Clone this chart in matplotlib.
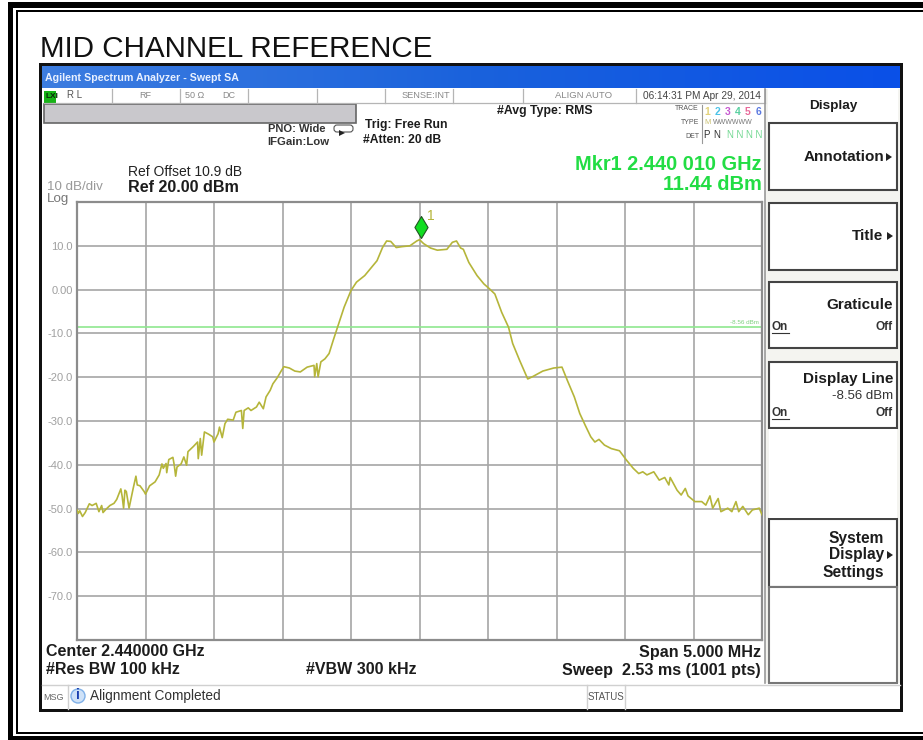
#%%
import numpy as np
import matplotlib.pyplot as plt
from matplotlib.patches import Rectangle, Polygon, FancyBboxPatch

plt.rcParams['font.family'] = ['Liberation Sans', 'DejaVu Sans']

# trace: offset respecto al centro [MHz] y nivel [dBm]
freq_mhz = [-2.50, -2.49, -2.48, -2.46, -2.44, -2.41, -2.39, -2.36, -2.34, -2.32, -2.31, -2.29, -2.26, -2.23, -2.21,
            -2.18, -2.17, -2.16, -2.15, -2.14, -2.12, -2.10, -2.09, -2.07, -2.06, -2.04, -2.01, -2.00, -1.97, -1.93,
            -1.90, -1.88, -1.87, -1.85, -1.845, -1.83, -1.80, -1.79, -1.78, -1.77, -1.74, -1.72, -1.70, -1.69, -1.65,
            -1.62, -1.615, -1.60, -1.59, -1.57, -1.54, -1.51, -1.50, -1.47, -1.46, -1.44, -1.42, -1.40, -1.36, -1.34,
            -1.30, -1.29, -1.28, -1.25, -1.23, -1.19, -1.17, -1.14, -1.12, -1.09, -1.07, -1.04, -1.01, -0.99, -0.95,
            -0.91, -0.87, -0.82, -0.77, -0.765, -0.75, -0.74, -0.72, -0.69, -0.66, -0.63, -0.59, -0.55, -0.50, -0.46,
            -0.40, -0.36, -0.31, -0.27, -0.24, -0.21, -0.17, -0.13, -0.07, -0.02, 0.00, 0.03, 0.08, 0.13, 0.20,
            0.24, 0.27, 0.30, 0.32, 0.36, 0.42, 0.47, 0.51, 0.55, 0.60, 0.65, 0.68, 0.73, 0.79, 0.83,
            0.90, 0.98, 1.04, 1.08, 1.13, 1.17, 1.21, 1.25, 1.28, 1.31, 1.35, 1.40, 1.46, 1.51, 1.56,
            1.60, 1.63, 1.66, 1.71, 1.75, 1.79, 1.82, 1.83, 1.88, 1.91, 1.94, 1.96, 2.01, 2.06, 2.09,
            2.12, 2.14, 2.18, 2.20, 2.25, 2.28, 2.31, 2.33, 2.36, 2.40, 2.43, 2.48, 2.50]
level_dbm = [-50.3, -51.1, -50.5, -51.8, -50.9, -48.9, -49.3, -48.8, -50.7, -49.3, -50.9, -50.2, -49.3, -48.8, -47.9,
             -45.5, -47.3, -49.9, -45.8, -46.1, -49.9, -46.9, -45.4, -42.6, -44.6, -44.8, -46.1, -46.7, -44.8, -43.9,
             -42.3, -39.8, -40.8, -39.7, -41.8, -38.8, -38.3, -40.1, -42.6, -40.5, -39.8, -38.2, -40.1, -37.0, -35.8,
             -34.8, -38.6, -34.0, -37.8, -32.5, -33.0, -33.6, -34.8, -32.9, -31.4, -33.8, -30.6, -29.6, -29.8, -28.0,
             -27.6, -31.7, -27.6, -27.0, -27.6, -26.8, -25.7, -27.2, -24.5, -23.0, -21.5, -20.2, -18.6, -17.6, -17.9,
             -18.6, -18.8, -17.7, -17.3, -19.9, -16.9, -19.9, -16.5, -15.8, -14.6, -11.6, -7.8, -4.0, -0.2, 1.7,
             3.2, 4.7, 6.6, 9.6, 11.1, 11.0, 9.6, 9.8, 10.0, 11.1, 11.4, 10.5, 9.5, 9.0, 9.2,
             10.8, 11.1, 9.5, 9.2, 6.2, 3.2, 1.3, 0.2, -1.0, -5.2, -8.6, -12.3, -16.1, -20.4, -19.8,
             -18.6, -17.9, -17.7, -20.8, -24.5, -28.3, -31.0, -33.6, -34.8, -34.2, -35.5, -36.3, -36.8, -38.9, -40.8,
             -42.0, -41.6, -42.3, -41.6, -43.5, -42.9, -44.6, -42.9, -45.8, -46.9, -45.4, -47.1, -48.4, -48.4, -49.2,
             -47.1, -49.9, -47.7, -50.7, -49.9, -50.7, -48.4, -50.7, -49.5, -51.4, -50.3, -49.9, -51.4]
y_ticks = [10, 0, -10, -20, -30, -40, -50, -60, -70]
y_tick_labels = ['10.0', '0.00', '-10.0', '-20.0', '-30.0', '-40.0', '-50.0', '-60.0', '-70.0']
display_line = -8.56
marker_freq = 0.01
marker_level = 14.3

W, H = 923, 740
fig = plt.figure(figsize=(W / 100, H / 100), dpi=100)

# capa de fondo en pixeles para la ventana del analizador
bg = fig.add_axes([0, 0, 1, 1])
bg.set_xlim(0, W)
bg.set_ylim(H, 0)
bg.axis('off')


def box(x0, y0, x1, y1, fc='white', ec='none', lw=0, z=1):
    bg.add_patch(Rectangle((x0, y0), x1 - x0, y1 - y0, fc=fc, ec=ec, lw=lw, zorder=z))


def txt(x, y, s, size=9, weight='bold', color='#1c1c1c', ha='left', va='center', **kw):
    bg.text(x, y, s, fontsize=size, fontweight=weight, color=color, ha=ha, va=va, zorder=6, **kw)


# marco de la pagina
box(8, 2, W, 8, fc='black')
box(8, 2, 13, H, fc='black')
box(16, 10, W, 12, fc='black')
box(16, 10, 18, 734, fc='black')
box(16, 732, W, 734, fc='black')
box(8, 736, W, H, fc='black')

txt(40, 49, 'MID CHANNEL REFERENCE', size=21.3, weight='normal', color='#111111')

# ventana
box(39, 63, 903, 712, fc='#111111', z=1)
box(42, 66, 900, 709, fc='white', z=1)
grad = np.linspace(0, 1, 256).reshape(1, -1)
bg.imshow(grad, extent=(42, 900, 88, 66), aspect='auto', zorder=2,
          cmap=plt.cm.colors.LinearSegmentedColormap.from_list('barra', ['#3d7de0', '#1a62dc', '#0a50e8']))
bg.set_xlim(0, W)
bg.set_ylim(H, 0)
txt(45, 78, 'Agilent Spectrum Analyzer - Swept SA', size=7.7, color='#e8f0ff')

# fila de estado
box(44, 91, 56, 103, fc='#17b317', z=2)
txt(45, 97, 'LXI', size=6, color='#0a2a0a')
txt(67, 95, 'R L', size=7, weight='normal', color='#555555')
txt(139, 96, 'RF', size=6.5, weight='normal', color='#888888')
txt(185, 96, '50 Ω', size=6.5, weight='normal', color='#888888')
txt(222, 96, 'DC', size=6.5, weight='normal', color='#888888')
txt(402, 96, 'SENSE:INT', size=6.7, weight='normal', color='#888888')
txt(555, 96, 'ALIGN AUTO', size=6.8, weight='normal', color='#888888')
txt(643, 96, '06:14:31 PM Apr 29, 2014', size=7.3, weight='normal', color='#444444')
for xs in [112, 180, 248, 317, 385, 453, 523, 636, 765]:
    bg.plot([xs, xs], [89, 103], color='#b5b5b5', lw=0.9, zorder=3)
bg.plot([44, 765], [103, 103], color='#b5b5b5', lw=0.9, zorder=3)

box(44, 104, 356, 123, fc='#c9c8cc', ec='#666666', lw=1.2, z=2)

txt(268, 129, 'PNO: Wide', size=8, color='#333333')
txt(267, 142, 'IFGain:Low', size=8.2, color='#333333')
bg.add_patch(FancyBboxPatch((335, 126), 17, 5, boxstyle='round,pad=1,rounding_size=3', fc='none', ec='#555555',
                            lw=0.8, zorder=3))
bg.add_patch(Polygon([[339, 130], [345, 133], [339, 136]], fc='#222222', ec='none', zorder=3))
txt(365, 125, 'Trig: Free Run', size=8.7)
txt(363, 140, '#Atten: 20 dB', size=8.7)
txt(497, 111, '#Avg Type: RMS', size=8.8)

# tabla de trazas
txt(699, 109, 'TRACE', size=5, weight='normal', ha='right', color='#555555')
txt(699, 123, 'TYPE', size=5, weight='normal', ha='right', color='#555555')
txt(699, 136, 'DET', size=5, weight='normal', ha='right', color='#555555')
bg.plot([702, 702], [105, 143], color='#999999', lw=0.8, zorder=3)
trace_cols = ['#e3d27a', '#4cc3e8', '#c65ad0', '#58d0a0', '#e86a9a', '#5a78e0']
for i, c in enumerate(trace_cols):
    txt(707 + i * 10.2, 112, str(i + 1), size=7.5, color=c, ha='center')
txt(704, 123, 'M', size=5.5, weight='normal', color='#c9c070')
txt(713, 123, 'WWWWWW', size=5, weight='normal', color='#777777')
txt(706, 135, 'P', size=7, weight='normal', color='#333333', ha='center')
txt(717, 135, 'N', size=7, weight='normal', color='#333333', ha='center')
txt(727, 135, 'N N N N', size=6.9, weight='normal', color='#72d892')

txt(128, 172, 'Ref Offset 10.9 dB', size=10, weight='normal', color='#222222')
txt(128, 188, 'Ref 20.00 dBm', size=11.6)
txt(47, 187, '10 dB/div', size=9.6, weight='normal', color='#999999')
txt(47, 199, 'Log', size=9.6, weight='normal', color='#777777')

txt(762, 165, 'Mkr1 2.440 010 GHz', size=14.4, color='#22dd44', ha='right')
txt(762, 185, '11.44 dBm', size=14.4, color='#22dd44', ha='right')

# textos de abajo
txt(46, 652, 'Center 2.440000 GHz', size=11.5)
txt(46, 670, '#Res BW 100 kHz', size=11.5)
txt(306, 670, '#VBW 300 kHz', size=11.5)
txt(761, 652, 'Span 5.000 MHz', size=11.6, ha='right')
txt(761, 670, 'Sweep  2.53 ms (1001 pts)', size=11.6, ha='right')

# fila de mensajes
bg.plot([42, 900], [685, 685], color='#d0d0d0', lw=1, zorder=3)
bg.plot([68, 68], [685, 709], color='#d0d0d0', lw=1, zorder=3)
bg.plot([587, 587], [685, 709], color='#d0d0d0', lw=1, zorder=3)
bg.plot([625, 625], [685, 709], color='#d0d0d0', lw=1, zorder=3)
txt(43, 697, 'MSG', size=6.5, weight='normal', color='#666666')
txt(588, 697, 'STATUS', size=7, weight='normal', color='#555555')
bg.add_patch(plt.Circle((78, 696), 7, fc='#cfe2f8', ec='#7fb0e8', lw=1, zorder=4))
txt(78, 695, 'i', size=10, color='#1a3fb0', ha='center')
txt(90, 696, 'Alignment Completed', size=9.8, weight='normal', color='#333333')

# panel de softkeys
box(765, 89, 900, 683, fc='#f4f4f0', z=2)
box(768, 89, 898, 122, fc='white', z=2)
soft = [(123, 190), (203, 270), (282, 348), (362, 428), (519, 587)]
for y0, y1 in soft:
    box(769, y0, 897, y1, fc='white', ec='#444444', lw=1.5, z=3)
box(769, 429, 897, 518, fc='white', z=3)
box(769, 587, 897, 683, fc='white', ec='#777777', lw=1.5, z=3)
bg.plot([765, 765], [89, 683], color='#999999', lw=1.2, zorder=4)

txt(833, 106, 'Display', size=9.7, ha='center')
txt(884, 157, 'Annotation', size=11, ha='right')
txt(883, 236, 'Title', size=11, ha='right')
txt(893, 305, 'Graticule', size=11, ha='right')
txt(772, 327, 'On', size=8.5, color='#333333')
bg.plot([772, 789], [333, 333], color='#333333', lw=0.8, zorder=6)
txt(893, 327, 'Off', size=8.5, ha='right', color='#333333')
txt(893, 379, 'Display Line', size=11, ha='right')
txt(893, 396, '-8.56 dBm', size=9.5, weight='normal', ha='right', color='#333333')
txt(772, 413, 'On', size=8.5, color='#333333')
bg.plot([772, 789], [419, 419], color='#333333', lw=0.8, zorder=6)
txt(893, 413, 'Off', size=8.5, ha='right', color='#333333')
txt(884, 538, 'System', size=11.2, ha='right')
txt(884, 555, 'Display', size=11.2, ha='right')
txt(884, 572, 'Settings', size=11.2, ha='right')
for ax_, ay_ in [(886, 157), (887, 236), (887, 555)]:
    bg.add_patch(Polygon([[ax_, ay_ - 4], [ax_ + 6, ay_], [ax_, ay_ + 4]], fc='#222222', ec='none', zorder=6))

# eje del espectro: 10 divisiones en cada direccion
left, right, top, bottom = 77, 762, 202, 640
ax = fig.add_axes([left / W, 1 - bottom / H, (right - left) / W, (bottom - top) / H], zorder=5)
ax.patch.set_alpha(0)
ax.set_xlim(-2.5, 2.5)
ax.set_ylim(-80, 20)
ax.set_xticks(np.arange(-2.0, 2.5, 0.5))
ax.set_yticks(y_ticks)
ax.set_yticklabels(y_tick_labels, fontsize=8, color='#a0a0a0')
ax.tick_params(axis='both', length=0, pad=3)
ax.tick_params(axis='x', labelbottom=False)
ax.grid(True, color='#a6a6a6', lw=1.2)
ax.set_axisbelow(True)
for s in ax.spines.values():
    s.set_color('#8c8c8c')
    s.set_linewidth(1.6)

ax.axhline(display_line, color='#8fe88f', lw=1.2, zorder=2)
ax.text(2.48, display_line + 0.4, '-8.56 dBm', fontsize=4.5, color='#7fd07f', ha='right', va='bottom')
ax.plot(freq_mhz, level_dbm, color='#b5b53a', lw=1.2, zorder=3)
ax.plot([marker_freq], [marker_level], marker=[(0, 1), (0.6, 0), (0, -1), (-0.6, 0), (0, 1)], ms=15.8,
        mfc='#11dd22', mec='#225522', mew=0.8, zorder=4, linestyle='none')
ax.text(0.085, 16.8, '1', fontsize=10, color='#b5b53a', ha='center', va='center')

fig.savefig('out.png', dpi=100)
